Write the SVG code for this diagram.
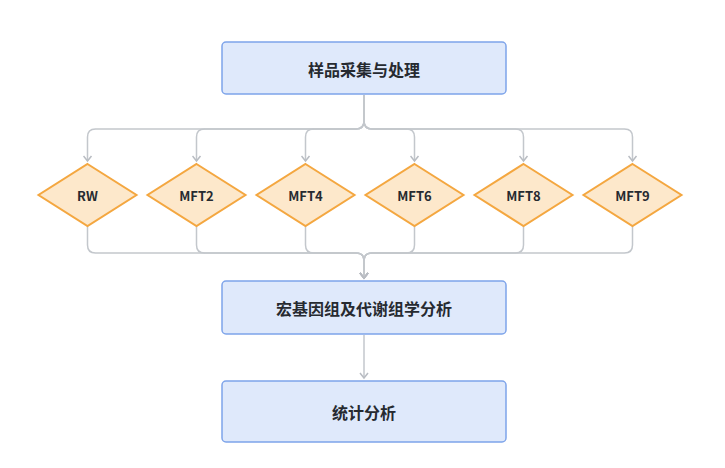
<svg xmlns="http://www.w3.org/2000/svg" width="725" height="468" viewBox="0 0 725 468">
<defs>
<marker id="arr" markerWidth="10" markerHeight="10" refX="7" refY="5" orient="auto" markerUnits="userSpaceOnUse">
<path d="M2,1 L7,5 L2,9" fill="none" stroke="#b8bcc2" stroke-width="1.5"/>
</marker>
</defs>
<style>
.box{fill:#dfe9fb;stroke:#7ea4ea;stroke-width:1.5}
.dia{fill:#fde8cb;stroke:#f4a740;stroke-width:2}
.t{font-family:"Noto Sans CJK SC","Noto Sans",sans-serif;font-weight:bold;fill:#262a30;text-anchor:middle;dominant-baseline:central}
.c{fill:none;stroke:#c3c7cc;stroke-width:1.5}
</style>
<rect width="725" height="468" fill="#ffffff"/>
<g id="connectors">
<path class="c" marker-end="url(#arr)" d="M364,95 V121 Q364,129 356,129 H95.5 Q87.5,129 87.5,137 V161"/>
<path class="c" marker-end="url(#arr)" d="M364,95 V121 Q364,129 356,129 H204.5 Q196.5,129 196.5,137 V161"/>
<path class="c" marker-end="url(#arr)" d="M364,95 V121 Q364,129 356,129 H313.5 Q305.5,129 305.5,137 V161"/>
<path class="c" marker-end="url(#arr)" d="M364,95 V121 Q364,129 372,129 H406.5 Q414.5,129 414.5,137 V161"/>
<path class="c" marker-end="url(#arr)" d="M364,95 V121 Q364,129 372,129 H515.5 Q523.5,129 523.5,137 V161"/>
<path class="c" marker-end="url(#arr)" d="M364,95 V121 Q364,129 372,129 H624.5 Q632.5,129 632.5,137 V161"/>
<path class="c" marker-end="url(#arr)" d="M87.5,226 V245 Q87.5,253 95.5,253 H356 Q364,253 364,261 V278"/>
<path class="c" marker-end="url(#arr)" d="M196.5,226 V245 Q196.5,253 204.5,253 H356 Q364,253 364,261 V278"/>
<path class="c" marker-end="url(#arr)" d="M305.5,226 V245 Q305.5,253 313.5,253 H356 Q364,253 364,261 V278"/>
<path class="c" marker-end="url(#arr)" d="M414.5,226 V245 Q414.5,253 406.5,253 H372 Q364,253 364,261 V278"/>
<path class="c" marker-end="url(#arr)" d="M523.5,226 V245 Q523.5,253 515.5,253 H372 Q364,253 364,261 V278"/>
<path class="c" marker-end="url(#arr)" d="M632.5,226 V245 Q632.5,253 624.5,253 H372 Q364,253 364,261 V278"/>
<path class="c" marker-end="url(#arr)" d="M364,335 V378"/>
</g>
<g id="n_sample">
<rect class="box" x="222" y="42" width="284" height="52" rx="4"/>
<text class="t" x="364" y="69" font-size="16">样品采集与处理</text>
</g>
<g id="n_rw">
<polygon class="dia" points="87.5,164 136.5,195 87.5,226 38.5,195"/>
<text class="t" x="87.5" y="195" font-size="13">RW</text>
</g>
<g id="n_mft2">
<polygon class="dia" points="196.5,164 245.5,195 196.5,226 147.5,195"/>
<text class="t" x="196.5" y="195" font-size="13">MFT2</text>
</g>
<g id="n_mft4">
<polygon class="dia" points="305.5,164 354.5,195 305.5,226 256.5,195"/>
<text class="t" x="305.5" y="195" font-size="13">MFT4</text>
</g>
<g id="n_mft6">
<polygon class="dia" points="414.5,164 463.5,195 414.5,226 365.5,195"/>
<text class="t" x="414.5" y="195" font-size="13">MFT6</text>
</g>
<g id="n_mft8">
<polygon class="dia" points="523.5,164 572.5,195 523.5,226 474.5,195"/>
<text class="t" x="523.5" y="195" font-size="13">MFT8</text>
</g>
<g id="n_mft9">
<polygon class="dia" points="632.5,164 681.5,195 632.5,226 583.5,195"/>
<text class="t" x="632.5" y="195" font-size="13">MFT9</text>
</g>
<g id="n_omics">
<rect class="box" x="222" y="281" width="284" height="53" rx="4"/>
<text class="t" x="364" y="308" font-size="16">宏基因组及代谢组学分析</text>
</g>
<g id="n_stat">
<rect class="box" x="222" y="381" width="284" height="61" rx="4"/>
<text class="t" x="364" y="412" font-size="16">统计分析</text>
</g>
</svg>
